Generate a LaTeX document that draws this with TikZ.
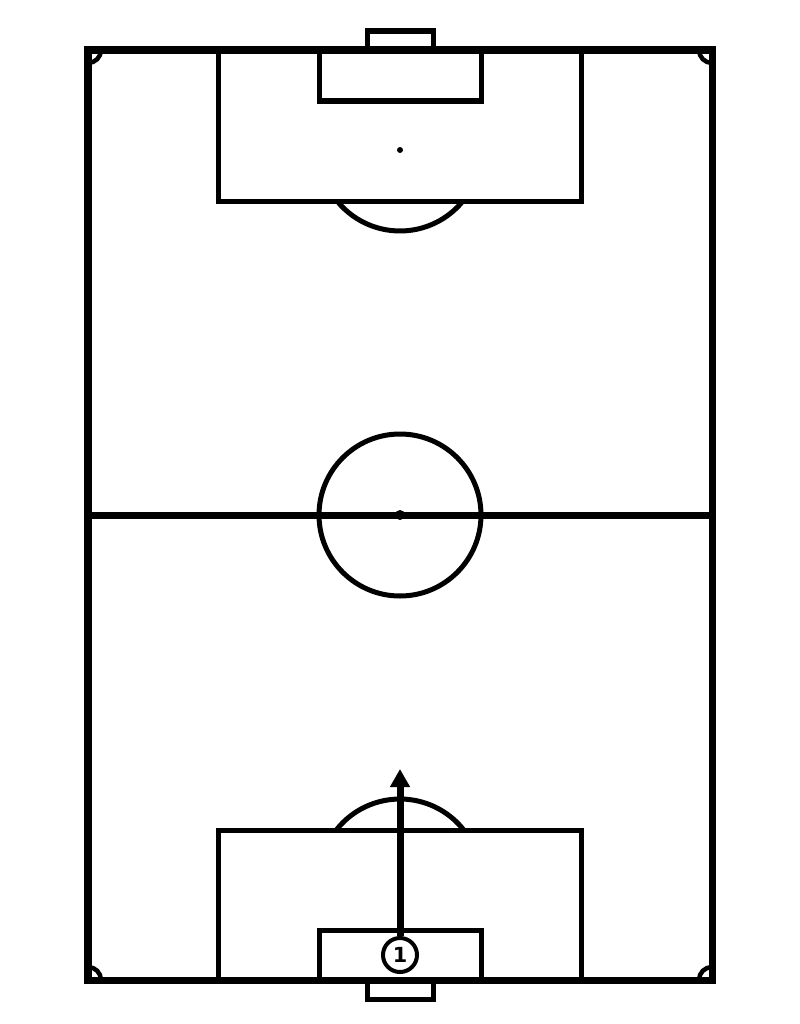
\documentclass[tikz,border=0pt]{standalone}
\usepackage{fontspec}
\setmainfont{DejaVu Sans}
\usetikzlibrary{arrows.meta}
\tikzset{
  pitchline/.style={line width=0.07cm,black},
  markline/.style={line width=0.05cm,black},
  cornerline/.style={line width=0.045cm,black},
  player/.style={circle,draw,line width=0.04cm,minimum size=0.34cm,inner sep=0pt,fill=white,font=\bfseries\fontsize{5.9}{6}\selectfont},
  run/.style={line width=0.07cm,-{Triangle[length=0.18cm,width=0.19cm]}}
}

\begin{document}
\begin{tikzpicture}[x=0.01cm,y=-0.01cm]
  \useasboundingbox (0,0) rectangle (800,1024);

  % Outline and halfway line
  \draw[pitchline] (88,50) rectangle (712,980);
  \draw[pitchline] (88,515) -- (712,515);

  % Centre circle and spot
  \draw[markline] (400,515) circle (81);
  \fill (400,515) circle (5);

  % Top end: goal, boxes, spot, arc
  \draw[markline] (367,50) -- (367,31) -- (433,31) -- (433,50);
  \draw[markline] (218,50) rectangle (581,201);
  \draw[markline] (319,50) rectangle (481,101);
  \fill (400,150) circle (3);
  \draw[markline] (400,150) ++(141:81) arc[start angle=141,end angle=39,radius=81];

  % Bottom end: goal, boxes, spot, arc
  \draw[markline] (367,980) -- (367,999) -- (433,999) -- (433,980);
  \draw[markline] (218,980) rectangle (581,830);
  \draw[markline] (319,980) rectangle (481,930);
  \fill (400,880) circle (3);
  \draw[markline] (400,880) ++(-141.9:81) arc[start angle=-141.9,end angle=-38.1,radius=81];

  % Corner arcs
  \draw[cornerline] (101,50) arc[start angle=0,end angle=90,radius=13];
  \draw[cornerline] (699,50) arc[start angle=180,end angle=90,radius=13];
  \draw[cornerline] (101,980) arc[start angle=0,end angle=-90,radius=13];
  \draw[cornerline] (699,980) arc[start angle=180,end angle=270,radius=13];

  % Player and run
  \node[player] (p1) at (400,955) {1};
  \coordinate (tip) at (400,769);
  \draw[run] (p1) -- (tip);
\end{tikzpicture}
\end{document}
